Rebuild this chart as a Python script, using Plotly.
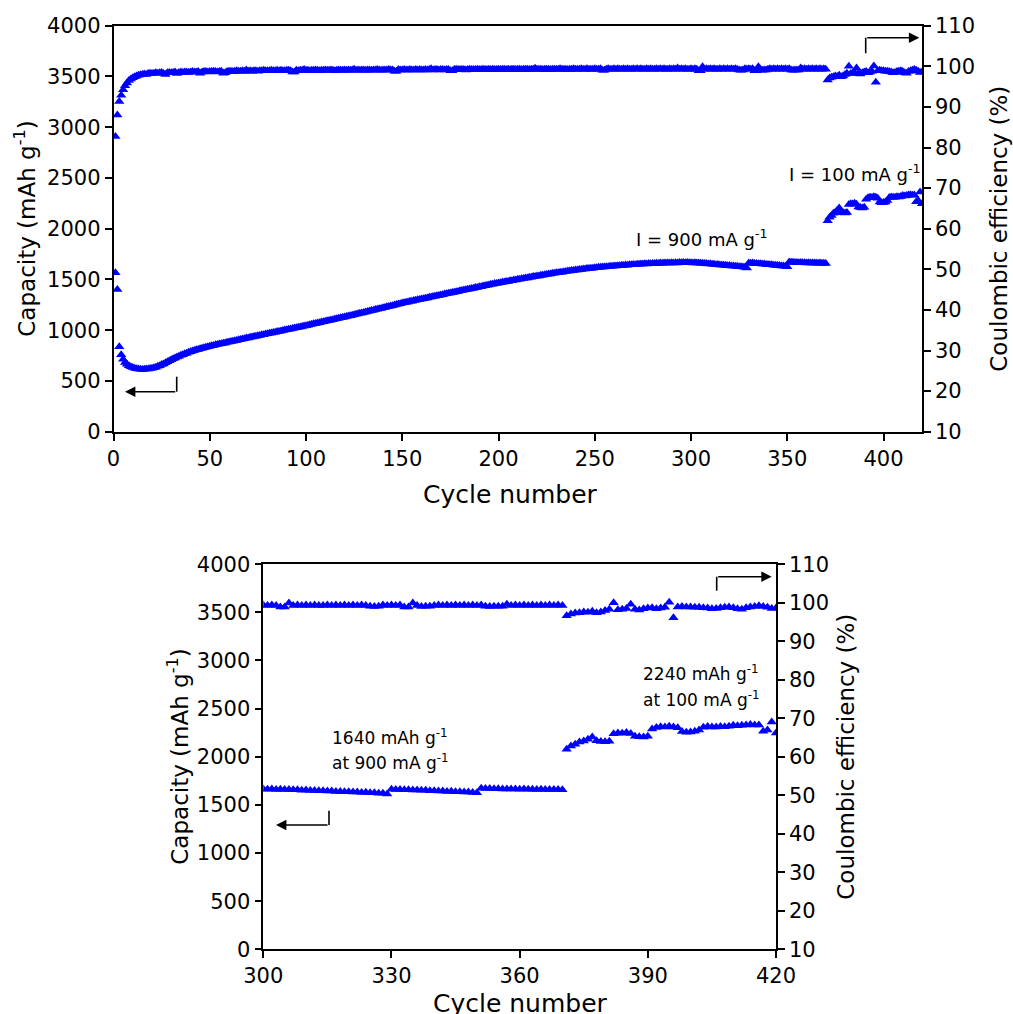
import plotly.graph_objects as go

# ---- data -----------------------------------------------------------------
cycle_number = list(range(1, 421))

# Specific capacity (mAh g-1); cycles 1-370 at 900 mA g-1, 371-420 at 100 mA g-1
capacity = [
    1565, 1402, 836, 758, 715, 683, 664, 649, 639, 632,
    625, 621, 617, 616, 614, 615, 617, 618, 622, 625,
    631, 636, 644, 650, 661, 668, 680, 688, 700, 708,
    719, 726, 737, 743, 753, 759, 768, 773, 782, 787,
    795, 799, 807, 811, 818, 821, 828, 831, 838, 841,
    847, 850, 856, 858, 864, 866, 872, 874, 881, 883,
    889, 891, 897, 899, 906, 908, 914, 915, 922, 924,
    930, 932, 938, 940, 946, 948, 954, 956, 962, 964,
    970, 973, 977, 981, 986, 988, 993, 997, 1002, 1004,
    1010, 1013, 1017, 1021, 1025, 1029, 1032, 1037, 1041, 1045,
    1049, 1053, 1058, 1063, 1066, 1071, 1074, 1080, 1083, 1088,
    1092, 1096, 1101, 1104, 1110, 1113, 1117, 1122, 1125, 1130,
    1134, 1139, 1143, 1148, 1152, 1157, 1161, 1167, 1170, 1175,
    1179, 1185, 1188, 1194, 1197, 1203, 1206, 1212, 1215, 1221,
    1224, 1230, 1233, 1239, 1242, 1248, 1252, 1257, 1261, 1267,
    1270, 1275, 1278, 1284, 1286, 1292, 1294, 1300, 1302, 1308,
    1310, 1316, 1318, 1324, 1326, 1332, 1334, 1340, 1342, 1348,
    1350, 1356, 1358, 1364, 1366, 1372, 1374, 1380, 1382, 1388,
    1390, 1396, 1398, 1404, 1406, 1412, 1413, 1420, 1421, 1428,
    1429, 1436, 1437, 1444, 1445, 1452, 1453, 1459, 1460, 1466,
    1467, 1473, 1474, 1480, 1481, 1487, 1488, 1494, 1495, 1501,
    1502, 1508, 1509, 1515, 1515, 1521, 1522, 1528, 1529, 1535,
    1535, 1541, 1542, 1547, 1548, 1554, 1554, 1560, 1560, 1566,
    1566, 1572, 1572, 1577, 1578, 1583, 1583, 1588, 1589, 1593,
    1593, 1598, 1598, 1603, 1602, 1607, 1607, 1611, 1611, 1615,
    1615, 1619, 1619, 1623, 1622, 1626, 1626, 1630, 1629, 1633,
    1632, 1636, 1635, 1639, 1638, 1642, 1641, 1645, 1644, 1647,
    1646, 1650, 1649, 1652, 1651, 1654, 1653, 1656, 1655, 1658,
    1657, 1660, 1658, 1661, 1660, 1662, 1661, 1663, 1662, 1664,
    1663, 1665, 1663, 1666, 1664, 1666, 1664, 1666, 1664, 1665,
    1663, 1664, 1661, 1662, 1659, 1660, 1656, 1657, 1653, 1654,
    1650, 1650, 1646, 1647, 1643, 1643, 1640, 1640, 1636, 1637,
    1633, 1633, 1629, 1630, 1626, 1626, 1622, 1621, 1614, 1663,
    1660, 1661, 1657, 1658, 1654, 1655, 1651, 1651, 1647, 1648,
    1644, 1644, 1640, 1641, 1637, 1637, 1633, 1633, 1629, 1625,
    1673, 1670, 1669, 1667, 1667, 1665, 1666, 1664, 1665, 1663,
    1664, 1662, 1663, 1661, 1662, 1660, 1661, 1659, 1660, 1658,
    2078, 2112, 2131, 2152, 2163, 2181, 2204, 2166, 2158, 2155,
    2160, 2238, 2246, 2243, 2251, 2242, 2214, 2208, 2205, 2212,
    2289, 2304, 2311, 2308, 2316, 2309, 2301, 2262, 2255, 2258,
    2264, 2279, 2307, 2313, 2310, 2309, 2314, 2312, 2318, 2326,
    2322, 2328, 2331, 2334, 2329, 2331, 2266, 2278, 2362, 2246,
]

# Coulombic efficiency (%)
coulombic_eff = [
    82.7, 88.0, 91.3, 92.9, 94.2, 95.2, 95.9, 96.5, 96.9, 97.2,
    97.4, 97.6, 97.8, 97.9, 98.0, 98.1, 98.0, 98.2, 98.3, 98.2,
    98.3, 98.4, 98.3, 98.4, 98.5, 98.2, 98.0, 98.4, 98.5, 98.4,
    98.5, 98.6, 98.2, 98.5, 98.6, 98.5, 98.6, 98.6, 98.5, 98.6,
    98.7, 98.6, 98.6, 98.7, 98.3, 98.6, 98.7, 98.7, 98.6, 98.7,
    98.7, 98.8, 98.7, 98.6, 98.7, 98.8, 98.3, 98.4, 98.7, 98.8,
    98.8, 98.7, 98.8, 98.9, 98.8, 98.8, 98.9, 98.8, 99.1, 98.8,
    98.9, 98.8, 98.9, 98.9, 98.8, 98.9, 98.9, 99.0, 98.9, 98.9,
    98.9, 99.0, 98.9, 98.9, 99.0, 98.9, 99.0, 98.9, 98.9, 99.0,
    99.0, 98.9, 98.6, 98.6, 99.0, 98.9, 99.0, 99.0, 99.2, 99.0,
    99.0, 98.9, 99.0, 99.0, 99.1, 99.0, 98.9, 99.0, 99.0, 99.1,
    99.0, 99.0, 99.1, 99.0, 98.9, 99.0, 99.1, 99.0, 99.0, 99.1,
    99.0, 99.1, 99.0, 99.1, 99.3, 99.0, 99.1, 99.0, 99.1, 99.1,
    99.0, 99.1, 99.1, 99.0, 99.1, 99.1, 99.2, 99.1, 99.0, 99.1,
    99.1, 99.1, 99.2, 99.1, 99.1, 98.8, 98.8, 99.2, 99.1, 99.1,
    99.2, 99.1, 99.1, 99.2, 99.1, 99.1, 99.2, 99.1, 99.2, 99.1,
    99.1, 99.2, 99.1, 99.2, 99.4, 99.1, 99.2, 99.2, 99.1, 99.2,
    99.2, 99.1, 99.2, 99.2, 98.9, 98.9, 99.2, 99.3, 99.2, 99.2,
    99.2, 99.2, 99.1, 99.2, 99.3, 99.2, 99.2, 99.2, 99.3, 99.2,
    99.2, 99.3, 99.2, 99.2, 99.3, 99.2, 99.3, 99.2, 99.2, 99.3,
    99.2, 99.3, 99.3, 99.2, 99.3, 99.2, 99.3, 99.3, 99.2, 99.3,
    99.3, 99.2, 99.3, 99.3, 99.3, 99.2, 99.3, 99.3, 99.5, 99.3,
    99.3, 99.3, 99.2, 99.3, 99.3, 99.3, 99.2, 99.3, 99.3, 99.3,
    99.3, 99.4, 99.3, 99.3, 99.3, 99.2, 99.3, 99.3, 99.4, 99.3,
    99.3, 99.3, 99.4, 99.3, 99.3, 99.4, 99.3, 99.3, 99.3, 99.4,
    99.3, 99.3, 99.4, 99.0, 99.0, 99.3, 99.4, 99.3, 99.3, 99.4,
    99.3, 99.4, 99.3, 99.3, 99.4, 99.3, 99.4, 99.3, 99.3, 99.4,
    99.3, 99.4, 99.3, 99.4, 99.3, 99.3, 99.4, 99.3, 99.4, 99.3,
    99.3, 99.4, 99.3, 99.4, 99.3, 99.4, 99.3, 99.3, 99.4, 99.3,
    99.4, 99.3, 99.6, 99.3, 99.4, 99.3, 99.4, 99.3, 99.3, 99.4,
    99.3, 99.4, 99.3, 98.9, 98.9, 99.9, 99.3, 99.4, 99.3, 99.4,
    99.3, 99.4, 99.3, 99.3, 99.4, 99.3, 99.4, 99.3, 99.4, 99.3,
    99.4, 99.3, 99.4, 99.3, 99.1, 99.0, 99.1, 99.4, 99.3, 99.4,
    99.3, 99.4, 98.9, 98.9, 99.9, 99.3, 99.0, 99.1, 99.1, 99.3,
    99.4, 99.3, 99.4, 99.3, 99.4, 99.3, 99.4, 99.3, 99.4, 99.3,
    99.4, 99.1, 99.0, 99.1, 99.1, 99.1, 99.6, 99.3, 99.4, 99.3,
    99.4, 99.3, 99.4, 99.3, 99.4, 99.3, 99.4, 99.3, 99.4, 99.3,
    96.6, 97.1, 97.3, 97.4, 97.6, 97.5, 97.8, 97.4, 97.6, 98.0,
    98.3, 100.0, 98.2, 98.3, 98.5, 99.6, 98.3, 98.1, 98.4, 98.6,
    98.7, 98.4, 98.6, 98.8, 100.1, 96.1, 98.9, 99.0, 98.9, 98.9,
    98.8, 98.8, 98.7, 98.6, 98.4, 98.5, 98.7, 98.8, 98.9, 98.7,
    98.4, 98.3, 98.7, 98.9, 99.0, 99.2, 99.0, 98.8, 98.5, 98.6,
]

top_xticks = [0, 50, 100, 150, 200, 250, 300, 350, 400]
zoom_xticks = [300, 330, 360, 390, 420]
cap_ticks = [0, 500, 1000, 1500, 2000, 2500, 3000, 3500, 4000]
ce_ticks = [10, 20, 30, 40, 50, 60, 70, 80, 90, 100, 110]

# ---- figure ---------------------------------------------------------------
W, H = 1013, 1014
FONT = "DejaVu Sans, Verdana, sans-serif"
BLUE = "#0000FF"


def px(x):
    return x / W


def py(y):
    return 1 - y / H


marker = dict(symbol="triangle-up", color=BLUE, size=9, line=dict(width=0))

fig = go.Figure()
for xa, ya_cap, ya_ce in (("x", "y", "y2"), ("x2", "y3", "y4")):
    fig.add_trace(go.Scatter(x=cycle_number, y=capacity, mode="markers",
                             marker=marker, xaxis=xa, yaxis=ya_cap,
                             showlegend=False))
    fig.add_trace(go.Scatter(x=cycle_number, y=coulombic_eff, mode="markers",
                             marker=marker, xaxis=xa, yaxis=ya_ce,
                             showlegend=False))

axis_common = dict(
    showgrid=False, zeroline=False, showline=True, linecolor="black",
    linewidth=1.6, ticks="outside", ticklen=7, tickwidth=1.6,
    tickcolor="black", automargin=False,
    tickfont=dict(family=FONT, size=21, color="black"),
)

top_x = [px(113.5), px(922)]
top_y = [py(431.7), py(25.7)]
bot_x = [px(263.3), px(776)]
bot_y = [py(949.3), py(564.2)]

fig.update_layout(
    width=W, height=H,
    margin=dict(l=0, r=0, t=0, b=0, autoexpand=False),
    paper_bgcolor="white", plot_bgcolor="white",
    font=dict(family=FONT, color="black"),
    xaxis=dict(axis_common, domain=top_x, anchor="y", range=[0, 420],
               tickvals=top_xticks, mirror=True),
    yaxis=dict(axis_common, domain=top_y, anchor="x", range=[0, 4000],
               tickvals=cap_ticks),
    yaxis2=dict(axis_common, overlaying="y", side="right", anchor="x",
                range=[10, 110], tickvals=ce_ticks),
    xaxis2=dict(axis_common, domain=bot_x, anchor="y3", range=[300, 420],
                tickvals=zoom_xticks, mirror=True),
    yaxis3=dict(axis_common, domain=bot_y, anchor="x2", range=[0, 4000],
                tickvals=cap_ticks),
    yaxis4=dict(axis_common, overlaying="y3", side="right", anchor="x2",
                range=[10, 110], tickvals=ce_ticks),
)

annotations = []


def text(x, y, s, size, angle=0, xanchor="center"):
    annotations.append(dict(
        x=px(x), y=py(y), xref="paper", yref="paper", text=s,
        showarrow=False, textangle=angle, xanchor=xanchor, yanchor="middle",
        font=dict(family=FONT, size=size, color="black")))


# axis titles
text(25, 228.7, "Capacity (mAh g<sup>-1</sup>)", 23, -90)
text(999, 228.7, "Coulombic efficiency (%)", 23, -90)
text(510, 495, "Cycle number", 25)
text(178, 756.7, "Capacity (mAh g<sup>-1</sup>)", 23, -90)
text(846, 756.7, "Coulombic efficiency (%)", 23, -90)
text(520, 1003, "Cycle number", 25)

# current-density / capacity labels
text(701, 238, "I = 900 mA g<sup>-1</sup>", 18)
text(854, 173, "I = 100 mA g<sup>-1</sup>", 18)
text(330, 736.7, "1640 mAh g<sup>-1</sup>", 17, xanchor="left")
text(330, 761.7, "at 900 mA g<sup>-1</sup>", 17, xanchor="left")
text(640.7, 673.3, "2240 mAh g<sup>-1</sup>", 17, xanchor="left")
text(640.7, 699.3, "at 100 mA g<sup>-1</sup>", 17, xanchor="left")

shapes = []


def bent_arrow(x_corner, y_stub, y_corner, x_tip):
    """Vertical stub then horizontal run ending in an arrowhead."""
    shapes.append(dict(type="line", xref="paper", yref="paper",
                       x0=px(x_corner), y0=py(y_stub),
                       x1=px(x_corner), y1=py(y_corner),
                       line=dict(color="black", width=1.6)))
    annotations.append(dict(
        x=px(x_tip), y=py(y_corner), xref="paper", yref="paper",
        ax=x_corner - x_tip, ay=0, text="", showarrow=True,
        arrowhead=2, arrowsize=1.3, arrowwidth=1.6, arrowcolor="black"))


bent_arrow(176.7, 376.7, 391.7, 125)    # top panel -> left axis
bent_arrow(865.7, 53.3, 37.7, 919.3)    # top panel -> right axis
bent_arrow(329, 810.7, 825, 276)        # lower panel -> left axis
bent_arrow(716.7, 590.7, 576.7, 771.7)  # lower panel -> right axis

fig.update_layout(annotations=annotations, shapes=shapes)

fig.write_html("out.html")
